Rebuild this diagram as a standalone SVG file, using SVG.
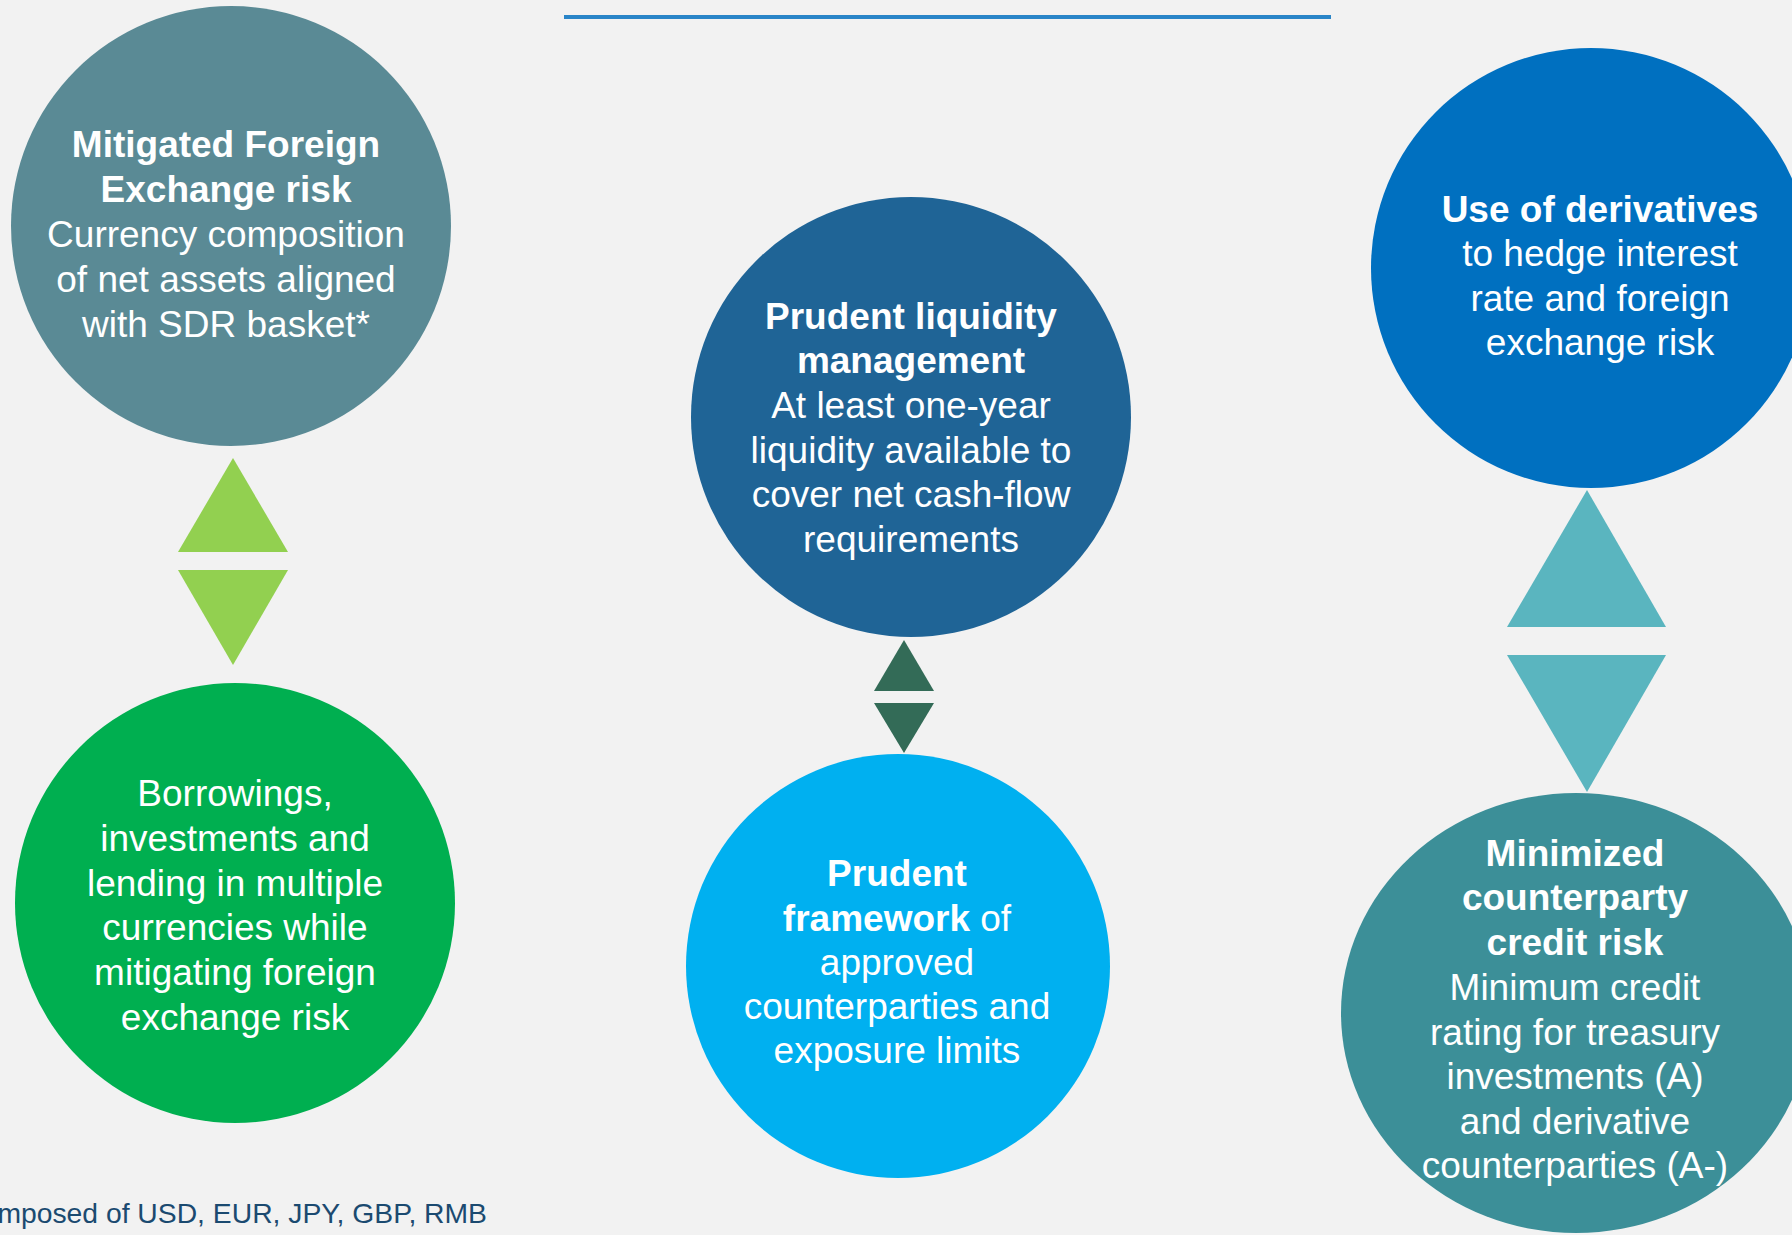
<svg xmlns="http://www.w3.org/2000/svg" width="1792" height="1235" viewBox="0 0 1792 1235">
<style>
.t{font-family:"Liberation Sans",Arial,sans-serif;font-size:37px;fill:#ffffff;text-anchor:middle}
.b{font-weight:bold}
.foot{font-family:"Liberation Sans",Arial,sans-serif;font-size:28.3px;fill:#1B4A70;text-anchor:end}
</style>
<rect x="0" y="0" width="1792" height="1235" fill="#F2F2F2"/>
<line x1="564" y1="17" x2="1331" y2="17" stroke="#2A85C8" stroke-width="4"/>
<g id="connectors">
<polygon points="233,458 288,552 178,552" fill="#92D050"/>
<polygon points="178,570 288,570 233,665" fill="#92D050"/>
<polygon points="904,640 934,691 874,691" fill="#336B57"/>
<polygon points="874,703 934,703 904,753" fill="#336B57"/>
<polygon points="1587,490 1666,627 1507,627" fill="#5AB5BF"/>
<polygon points="1507,655 1666,655 1587,792" fill="#5AB5BF"/>
</g>
<g id="node-fx">
<circle cx="231" cy="226" r="220" fill="#5A8A95"/>
<text class="t"><tspan class="b" x="226" y="157">Mitigated Foreign</tspan><tspan class="b" x="226" y="202">Exchange risk</tspan><tspan x="226" y="247">Currency composition</tspan><tspan x="226" y="292">of net assets aligned</tspan><tspan x="226" y="337">with SDR basket*</tspan></text>
</g>
<g id="node-borrowings">
<circle cx="235" cy="903" r="220" fill="#00AF50"/>
<text class="t"><tspan x="235" y="806">Borrowings,</tspan><tspan x="235" y="851">investments and</tspan><tspan x="235" y="896">lending in multiple</tspan><tspan x="235" y="940">currencies while</tspan><tspan x="235" y="985">mitigating foreign</tspan><tspan x="235" y="1030">exchange risk</tspan></text>
</g>
<g id="node-liquidity">
<circle cx="911" cy="417" r="220" fill="#1F6496"/>
<text class="t"><tspan class="b" x="911" y="329">Prudent liquidity</tspan><tspan class="b" x="911" y="373">management</tspan><tspan x="911" y="418">At least one-year</tspan><tspan x="911" y="463">liquidity available to</tspan><tspan x="911" y="507">cover net cash-flow</tspan><tspan x="911" y="552">requirements</tspan></text>
</g>
<g id="node-framework">
<circle cx="898" cy="966" r="212" fill="#00B0F0"/>
<text class="t"><tspan class="b" x="897" y="886">Prudent</tspan><tspan x="897" y="931"><tspan class="b">framework</tspan> of</tspan><tspan x="897" y="975">approved</tspan><tspan x="897" y="1019">counterparties and</tspan><tspan x="897" y="1063">exposure limits</tspan></text>
</g>
<g id="node-derivatives">
<circle cx="1591" cy="268" r="220" fill="#0070C0"/>
<text class="t"><tspan class="b" x="1600" y="222">Use of derivatives</tspan><tspan x="1600" y="266">to hedge interest</tspan><tspan x="1600" y="311">rate and foreign</tspan><tspan x="1600" y="355">exchange risk</tspan></text>
</g>
<g id="node-credit">
<ellipse cx="1576" cy="1013" rx="235" ry="220" fill="#3C8F98"/>
<text class="t"><tspan class="b" x="1575" y="866">Minimized</tspan><tspan class="b" x="1575" y="910">counterparty</tspan><tspan class="b" x="1575" y="955">credit risk</tspan><tspan x="1575" y="1000">Minimum credit</tspan><tspan x="1575" y="1045">rating for treasury</tspan><tspan x="1575" y="1089">investments (A)</tspan><tspan x="1575" y="1134">and derivative</tspan><tspan x="1575" y="1178">counterparties (A-)</tspan></text>
</g>
<text class="foot" x="487" y="1223">mposed of USD, EUR, JPY, GBP, RMB</text>
</svg>
